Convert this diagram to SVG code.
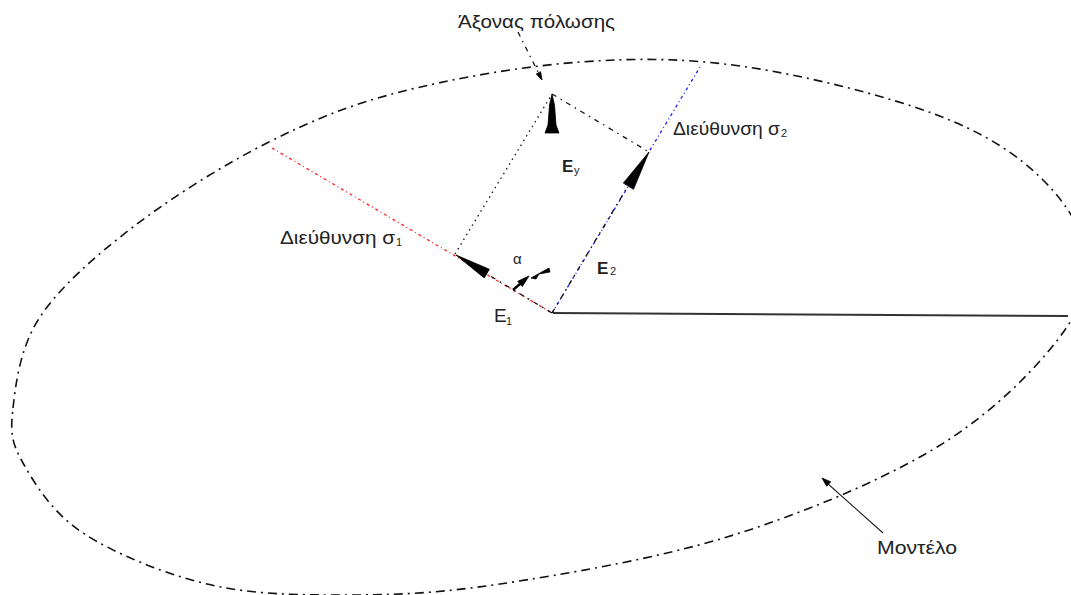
<svg xmlns="http://www.w3.org/2000/svg" width="1071" height="595" viewBox="0 0 1071 595">
<style>
text{font-family:"Liberation Sans","DejaVu Sans",Arial,sans-serif;fill:#222}
.lbl{font-size:19px}
.sub{font-size:11px}
.vec{font-size:17px;font-weight:bold}
.outline{fill:none;stroke:#111;stroke-width:1.6;stroke-dasharray:9 5 2 5}
.red{fill:none;stroke:#ff2020;stroke-width:1.3;stroke-dasharray:3 3 1 3}
.blue{fill:none;stroke:#1a1aff;stroke-width:1.3;stroke-dasharray:3 3 1 3}
.dd{fill:none;stroke:#111;stroke-width:1.3;stroke-dasharray:5 5 1.5 5}
.dot{fill:none;stroke:#111;stroke-width:1.3;stroke-dasharray:1.5 4}
.head{fill:#000;stroke:#000;stroke-width:0.8;stroke-linejoin:round}
</style>
<rect width="1071" height="595" fill="#fff"/>
<g id="model">
<path class="outline" d="M13,408 C15.8,383.7 20,347.2 40,317 C60,286.8 95.2,256 133,227 C170.8,198 222.5,165.5 267,143 C311.5,120.5 347.8,105.5 400,92 C452.2,78.5 522.2,66.2 580,62 C637.8,57.8 687.5,58.2 747,67 C806.5,75.8 887.7,96.2 937,115 C986.3,133.8 1017.8,155 1043,180 C1068.2,205 1087.3,236.2 1088,265 C1088.7,293.8 1073.8,321.7 1047,353 C1020.2,384.3 980.3,422.3 927,453 C873.7,483.7 798.2,515.2 727,537 C655.8,558.8 564,574.3 500,584 C436,593.7 391.8,595 343,595 C294.2,595 250.3,594.3 207,584 C163.7,573.7 113.7,553.2 83,533 C52.3,512.8 34.7,483.8 23,463 C11.3,442.2 10.2,432.3 13,408 Z"/>
</g>
<g id="reference-axis">
<line x1="553" y1="313" x2="1068" y2="316" stroke="#333" stroke-width="2"/>
</g>
<g id="direction-s1">
<line class="red" x1="272" y1="148" x2="552" y2="313"/>
</g>
<g id="direction-s2">
<line class="blue" x1="552" y1="313" x2="700" y2="67"/>
</g>
<g id="connectors">
<line class="dd" x1="552" y1="313" x2="487" y2="274"/>
<line class="dd" x1="552" y1="313" x2="628" y2="186"/>
<line class="dot" x1="455" y1="254" x2="552" y2="94"/>
<line class="dd" x1="552" y1="94" x2="649" y2="152"/>
<line class="dd" x1="518" y1="32" x2="539" y2="74"/>
<line x1="883" y1="533" x2="827" y2="483" stroke="#222" stroke-width="1.1"/>
</g>
<g id="vector-E1">
<polygon class="head" points="456,255 489.4,269.3 484.2,277.9"/>
<text class="lbl" x="494" y="322">E</text>
<text class="sub" x="506" y="325">1</text>
</g>
<g id="vector-E2">
<polygon class="head" points="649,152 633.5,189.3 623.3,183.1"/>
<text class="vec" x="597" y="274">E</text>
<text class="sub" x="610" y="275">2</text>
</g>
<g id="vector-Ey">
<polygon class="head" points="552,94 554.5,105 556,125 559,133 545,133 548,125 549.5,105"/>
<text class="vec" x="562" y="172">E</text>
<text class="sub" x="574" y="174">y</text>
</g>
<g id="angle-alpha">
<line x1="513" y1="290" x2="521" y2="283" stroke="#000" stroke-width="2.5"/>
<polygon class="head" points="529,276 522.3,286.5 517.7,281.3"/>
<polygon class="head" points="531,278 549,268 550,272 539,274 536,279"/>
<text x="513" y="264" font-size="15">α</text>
</g>
<g id="label-axis">
<text class="lbl" x="458" y="28" textLength="157" lengthAdjust="spacingAndGlyphs">Άξονας πόλωσης</text>
<polygon class="head" points="542,80 540.6,71.7 536.2,73.9"/>
</g>
<g id="label-s1">
<text class="lbl" x="280" y="244" textLength="115" lengthAdjust="spacingAndGlyphs">Διεύθυνση σ</text>
<text class="sub" x="396" y="246">1</text>
</g>
<g id="label-s2">
<text class="lbl" x="673" y="135" textLength="107" lengthAdjust="spacingAndGlyphs">Διεύθυνση σ</text>
<text class="sub" x="781" y="137">2</text>
</g>
<g id="label-model">
<text class="lbl" x="877" y="554" textLength="80" lengthAdjust="spacingAndGlyphs">Μοντέλο</text>
<polygon class="head" points="822,478 830.7,481.8 826.7,486.2"/>
</g>
</svg>
